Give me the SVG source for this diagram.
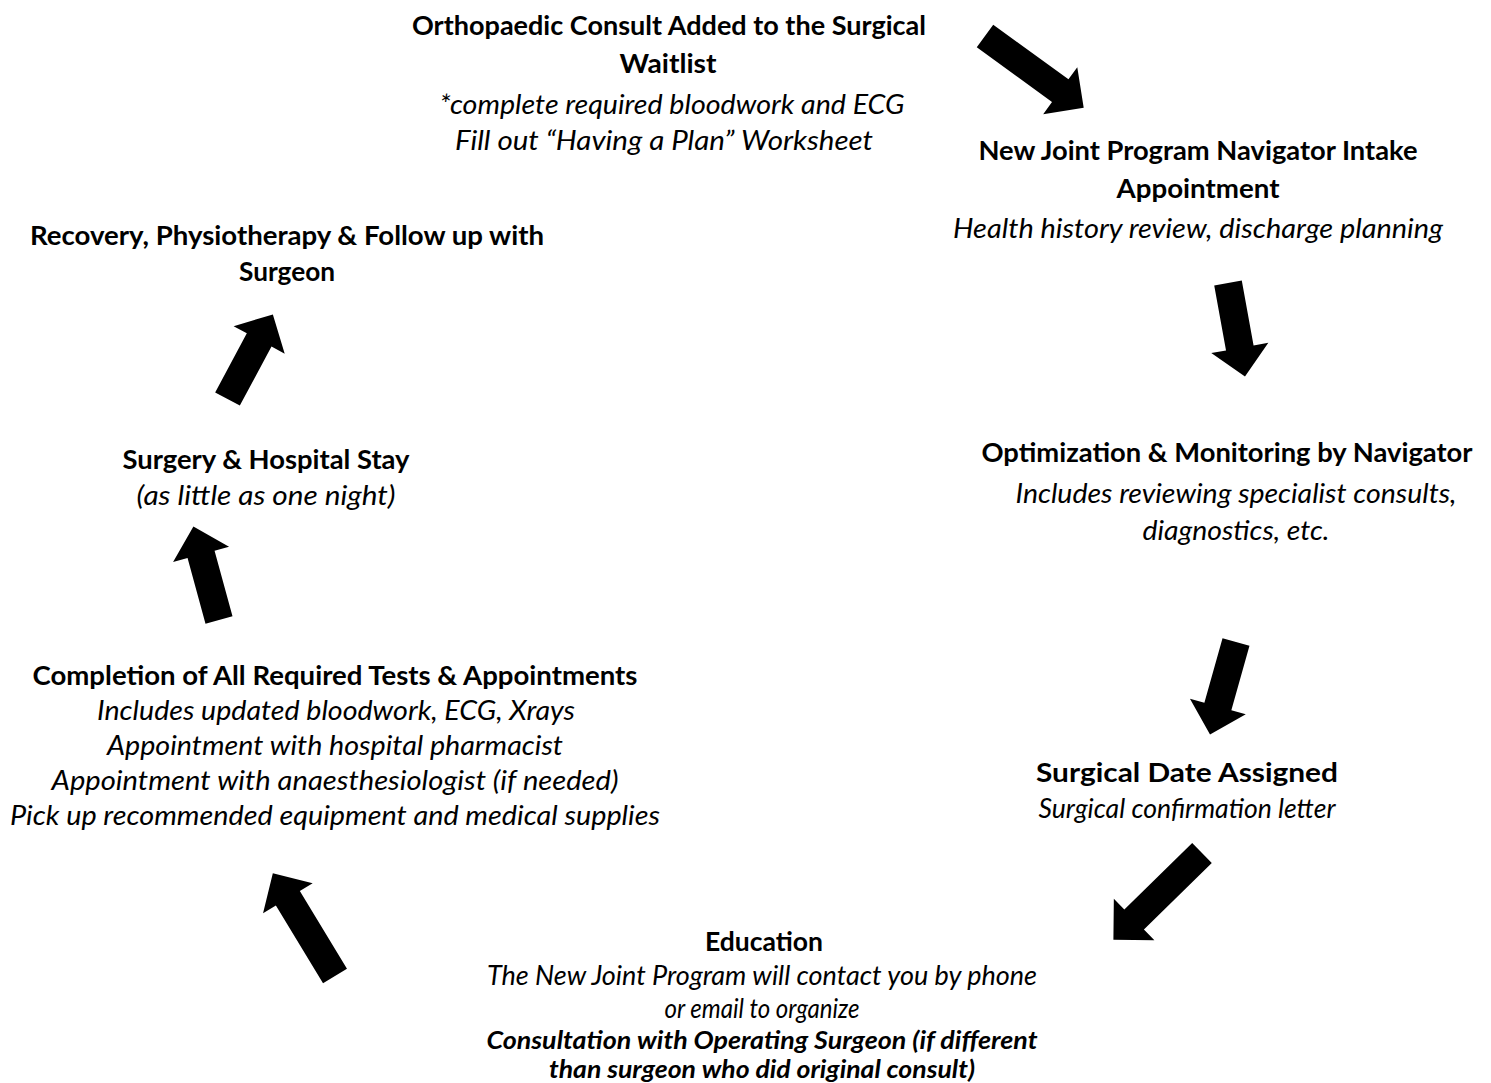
<svg xmlns="http://www.w3.org/2000/svg" width="1491" height="1083" viewBox="0 0 1491 1083">
<style>
text{font-family:"Lato","Carlito","Liberation Sans",sans-serif;font-size:27px;fill:#000;text-anchor:middle}
.b{font-weight:bold}
.i{font-style:italic}
.bi{font-weight:bold;font-style:italic;font-size:24px}
.arr{fill:#000}
</style>
<rect width="1491" height="1083" fill="#fff"/>
<g id="n1">
<text class="b" x="669" y="35" textLength="514" lengthAdjust="spacingAndGlyphs">Orthopaedic Consult Added to the Surgical</text>
<text class="b" x="668" y="73" textLength="97" lengthAdjust="spacingAndGlyphs">Waitlist</text>
<text class="i" x="672" y="114" textLength="465" lengthAdjust="spacingAndGlyphs">*complete required bloodwork and ECG</text>
<text class="i" x="664" y="150" textLength="418" lengthAdjust="spacingAndGlyphs">Fill out “Having a Plan” Worksheet</text>
</g>
<g id="n2">
<text class="b" x="1198" y="160" textLength="439" lengthAdjust="spacingAndGlyphs">New Joint Program Navigator Intake</text>
<text class="b" x="1198" y="198" textLength="163" lengthAdjust="spacingAndGlyphs">Appointment</text>
<text class="i" x="1198" y="238" textLength="490" lengthAdjust="spacingAndGlyphs">Health history review, discharge planning</text>
</g>
<g id="n3">
<text class="b" x="1227" y="462" textLength="491" lengthAdjust="spacingAndGlyphs">Optimization &amp; Monitoring by Navigator</text>
<text class="i" x="1236" y="503" textLength="441" lengthAdjust="spacingAndGlyphs">Includes reviewing specialist consults,</text>
<text class="i" x="1236" y="540" textLength="187" lengthAdjust="spacingAndGlyphs">diagnostics, etc.</text>
</g>
<g id="n4">
<text class="b" x="1187" y="782" textLength="302" lengthAdjust="spacingAndGlyphs">Surgical Date Assigned</text>
<text class="i" x="1187" y="818" textLength="297" lengthAdjust="spacingAndGlyphs">Surgical confirmation letter</text>
</g>
<g id="n5">
<text class="b" x="764" y="951" textLength="118" lengthAdjust="spacingAndGlyphs">Education</text>
<text class="i" x="762" y="985" textLength="550" lengthAdjust="spacingAndGlyphs">The New Joint Program will contact you by phone</text>
<text class="i" x="762" y="1018" textLength="195" lengthAdjust="spacingAndGlyphs">or email to organize</text>
<text class="bi" x="762" y="1049" textLength="551" lengthAdjust="spacingAndGlyphs">Consultation with Operating Surgeon (if different</text>
<text class="bi" x="762" y="1078" textLength="426" lengthAdjust="spacingAndGlyphs">than surgeon who did original consult)</text>
</g>
<g id="n6">
<text class="b" x="335" y="685" textLength="605" lengthAdjust="spacingAndGlyphs">Completion of All Required Tests &amp; Appointments</text>
<text class="i" x="336" y="720" textLength="478" lengthAdjust="spacingAndGlyphs">Includes updated bloodwork, ECG, Xrays</text>
<text class="i" x="335" y="755" textLength="456" lengthAdjust="spacingAndGlyphs">Appointment with hospital pharmacist</text>
<text class="i" x="335" y="790" textLength="567" lengthAdjust="spacingAndGlyphs">Appointment with anaesthesiologist (if needed)</text>
<text class="i" x="335" y="825" textLength="650" lengthAdjust="spacingAndGlyphs">Pick up recommended equipment and medical supplies</text>
</g>
<g id="n7">
<text class="b" x="266" y="469" textLength="287" lengthAdjust="spacingAndGlyphs">Surgery &amp; Hospital Stay</text>
<text class="i" x="266" y="505" textLength="259" lengthAdjust="spacingAndGlyphs">(as little as one night)</text>
</g>
<g id="n8">
<text class="b" x="287" y="245" textLength="514" lengthAdjust="spacingAndGlyphs">Recovery, Physiotherapy &amp; Follow up with</text>
<text class="b" x="287" y="281" textLength="96" lengthAdjust="spacingAndGlyphs">Surgeon</text>
</g>
<g id="connectors" class="arr">
<polygon transform="translate(985,36) rotate(36)" points="0,-14 93,-14 93,-29 122,0 93,29 93,14 0,14"/>
<polygon transform="translate(1228,283) rotate(79.7)" points="0,-14 66,-14 66,-29 95,0 66,29 66,14 0,14"/>
<polygon transform="translate(1236,642) rotate(105.7)" points="0,-14 67,-14 67,-29 96,0 67,29 67,14 0,14"/>
<polygon transform="translate(1202,853) rotate(135.6)" points="0,-14 95,-14 95,-29 124,0 95,29 95,14 0,14"/>
<polygon transform="translate(335,976) rotate(-121.2)" points="0,-14 91,-14 91,-29 120,0 91,29 91,14 0,14"/>
<polygon transform="translate(219,620) rotate(-105.3)" points="0,-14 68,-14 68,-29 97,0 68,29 68,14 0,14"/>
<polygon transform="translate(227.5,399) rotate(-61.8)" points="0,-14 67,-14 67,-29 96,0 67,29 67,14 0,14"/>
</g>
</svg>
